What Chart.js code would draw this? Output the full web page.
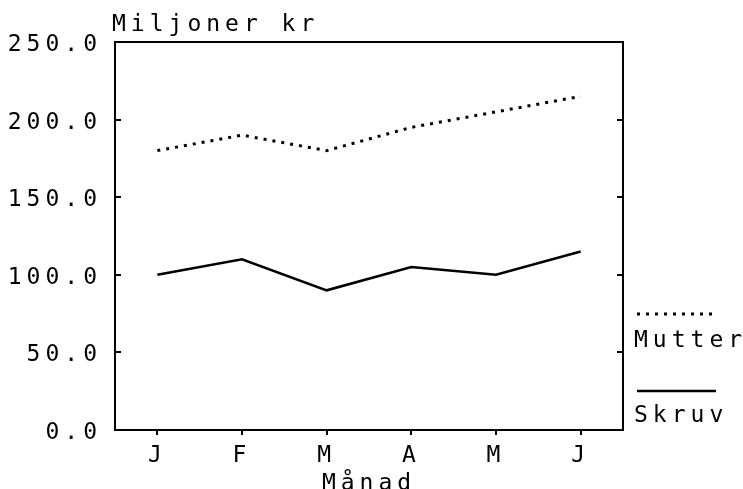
<!DOCTYPE html>
<html>
<head>
<meta charset="utf-8">
<script src="https://cdn.jsdelivr.net/npm/chart.js@4/dist/chart.umd.min.js"></script>
<style>
  html, body { margin: 0; padding: 0; background: #fff; }
  #chart { display: block; }
</style>
</head>
<body>
<canvas id="chart" width="743" height="489"></canvas>
<script>
const months = ["J", "F", "M", "A", "M", "J"];
const mutter = [180, 190, 180, 195, 205, 215];
const skruv = [100, 110, 90, 105, 100, 115];
const yTicks = [0, 50, 100, 150, 200, 250];
const yTitle = "Miljoner kr";
const xTitle = "Månad";

const FONT = "'DejaVu Sans Mono', monospace";
const FSIZE = 23;
const SPACING = "5px";

// old plotter look: wide letters, inward ticks, legend with sample above text
const retroPlugin = {
    id: "retro",
    beforeUpdate(chart) { chart.ctx.letterSpacing = SPACING; },
    beforeRender(chart) { chart.ctx.letterSpacing = SPACING; },
    afterDraw(chart) {
        const ctx = chart.ctx;
        const a = chart.chartArea;
        const y = chart.scales.y;
        ctx.save();
        ctx.letterSpacing = SPACING;
        ctx.strokeStyle = "#000";
        ctx.lineWidth = 2;
        // frame top + right
        ctx.beginPath();
        ctx.moveTo(a.left, a.top);
        ctx.lineTo(a.right, a.top);
        ctx.lineTo(a.right, a.bottom);
        ctx.stroke();
        // inward y ticks on both sides
        yTicks.slice(1, -1).forEach((v) => {
            const py = Math.round(y.getPixelForValue(v));
            ctx.beginPath();
            ctx.moveTo(a.left, py);
            ctx.lineTo(a.left + 6, py);
            ctx.moveTo(a.right, py);
            ctx.lineTo(a.right - 6, py);
            ctx.stroke();
        });
        ctx.fillStyle = "#000";
        ctx.font = FSIZE + "px " + FONT;
        ctx.textBaseline = "alphabetic";
        ctx.textAlign = "left";
        ctx.fillText(yTitle, a.left - 3, 31);

        // legend
        const lx = a.right + 11;
        const items = [
            { ds: chart.data.datasets[0], lineY: 314, textY: 347 },
            { ds: chart.data.datasets[1], lineY: 391, textY: 422 },
        ];
        items.forEach((it) => {
            ctx.save();
            ctx.lineWidth = it.ds.borderWidth;
            ctx.setLineDash(it.ds.borderDash || []);
            ctx.beginPath();
            ctx.moveTo(lx + 3, it.lineY);
            ctx.lineTo(lx + 82, it.lineY);
            ctx.stroke();
            ctx.restore();
            ctx.fillText(it.ds.label, lx, it.textY);
        });
        ctx.restore();
    },
};

const ctx = document.getElementById("chart");

new Chart(ctx, {
    type: "line",
    data: {
        labels: months,
        datasets: [
            {
                label: "Mutter",
                data: mutter,
                borderColor: "#000",
                borderWidth: 3,
                borderDash: [3, 6],
                pointRadius: 0,
                tension: 0,
            },
            {
                label: "Skruv",
                data: skruv,
                borderColor: "#000",
                borderWidth: 2.5,
                pointRadius: 0,
                tension: 0,
            },
        ],
    },
    options: {
        responsive: false,
        animation: false,
        events: [],
        layout: { padding: { top: 42, right: 120, left: 0, bottom: 0 } },
        plugins: {
            legend: { display: false },
            title: { display: false },
            tooltip: { enabled: false },
        },
        scales: {
            x: {
                offset: true,
                grid: {
                    offset: false,
                    drawOnChartArea: false,
                    drawTicks: true,
                    tickLength: 5,
                    color: "#000",
                    lineWidth: 2,
                },
                border: { display: true, color: "#000", width: 2 },
                ticks: {
                    color: "#000",
                    font: { family: FONT, size: FSIZE, lineHeight: 1 },
                    padding: 10,
                    maxRotation: 0,
                },
                title: {
                    display: true,
                    text: xTitle,
                    color: "#000",
                    font: { family: FONT, size: FSIZE, lineHeight: 1 },
                    padding: { top: 0, bottom: -7 },
                },
                afterFit: (s) => { s.height = 59; },
            },
            y: {
                min: 0,
                max: 250,
                afterBuildTicks: (s) => { s.ticks = yTicks.map((v) => ({ value: v })); },
                grid: { display: false },
                border: { display: true, color: "#000", width: 2 },
                ticks: {
                    color: "#000",
                    font: { family: FONT, size: FSIZE },
                    padding: 5,
                    labelOffset: 3,
                    callback: (v) => Number(v).toFixed(1),
                },
                afterFit: (s) => { s.width = 115; },
            },
        },
    },
    plugins: [retroPlugin],
});
</script>
</body>
</html>
